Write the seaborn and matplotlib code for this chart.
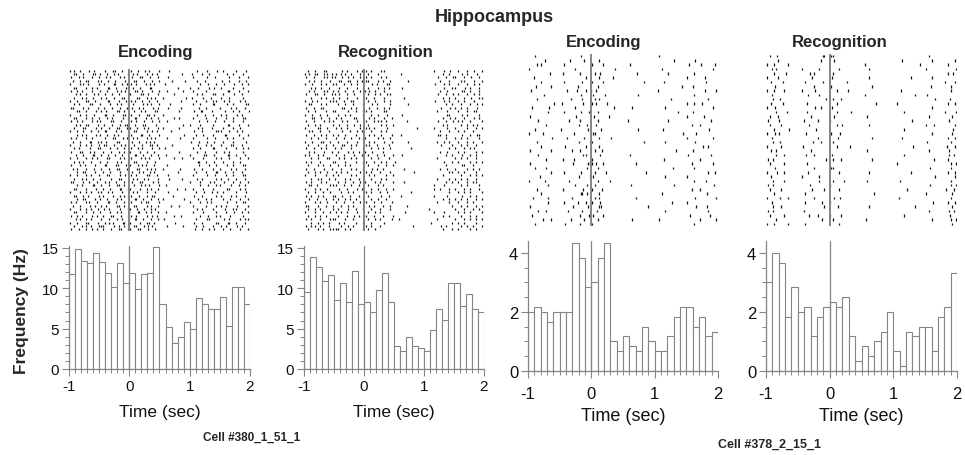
import numpy as np
import pandas as pd
import matplotlib
matplotlib.use("Agg")
import matplotlib.pyplot as plt
from matplotlib.ticker import MultipleLocator
import seaborn as sns

# ---------------- data ----------------
time_range = (-1.0, 2.0)
n_bins = 30
x_ticks = [-1, 0, 1, 2]

enc380_rate = [11.8, 14.9, 13.4, 13.1, 14.4, 13.2, 11.9, 10.2, 13.1, 10.6,
               11.9, 9.9, 11.8, 11.9, 15.1, 8.1, 5.2, 3.2, 4.0, 5.8,
               5.0, 8.8, 8.1, 7.4, 7.4, 8.9, 5.3, 10.2, 10.2, 8.0]
rec380_rate = [9.6, 13.9, 12.6, 10.9, 11.6, 8.6, 10.7, 8.3, 12.1, 8.0,
               8.3, 7.1, 9.8, 11.9, 8.3, 2.9, 2.2, 4.0, 2.9, 2.6,
               2.2, 4.8, 7.4, 6.1, 10.6, 10.7, 7.8, 9.3, 7.4, 7.0]
enc378_rate = [2.0, 2.17, 2.0, 1.67, 2.0, 2.0, 2.0, 4.33, 3.83, 2.83,
               3.0, 3.83, 4.33, 1.0, 0.67, 1.17, 0.83, 0.67, 1.5, 1.0,
               0.67, 0.67, 1.17, 1.83, 2.17, 2.17, 1.5, 1.83, 1.17, 1.33]
rec378_rate = [3.0, 4.0, 3.67, 1.83, 2.83, 2.0, 2.17, 1.17, 1.83, 2.17,
               2.33, 2.17, 2.5, 1.17, 0.33, 0.83, 0.5, 1.0, 1.33, 2.0,
               0.67, 0.17, 1.33, 1.17, 1.5, 1.5, 0.67, 1.83, 2.17, 3.33]

# raster rows (one per trial): six groups of 0.5 s covering -1..2 s,
# 10 slots of 50 ms per group; '(' early, '|' middle, ')' late spike in the slot
enc380_raster = [
    "(|.)..|.(. .)..|(.|.. |.)..(|..) ...(...... ..|..)...( .(...|..).",
    ".)(.|..)|. (.|.).(..| .(|..).|.( .......|.. )...(.|... ..|.(..)..|",
    "|..()..|.) ..(|..).(. )..|(.)..| ..)....... .(...)..|. ...(..|..(",
    ".(.|.)(..| |.)..(..|. .|(.)..|.) ....(...|. ..|..(.... )..(..|.).",
    "(..)|.(..) .|..)(.|.( |.(..|).(. .)........ ...|..(.). .|..)..(.|",
    ".|(..).|.( ..)(.|..)| .(.|..)(.. ......(... (.)...|.(. |...(..)..",
    "|.).(..|.. (.|..).(|. .)|.(..|.) ..|....).. .(...|.... ..)(..|..(",
    "..(|.)..(| .)..(.|..) (..)|.(..| ....)..... ..|.(..)|. .(..)..|..",
    ".)..(|.).. |.(.)..|(. ..|(.).(|. .(......). )...|..(.. |..(...)..",
    "(.|..)(.|. ..)(..|.). |)..(.|..( .......(.. ..(..|.)). .|.(..).(.",
    ".|.(..)|.. (..|.).(.| .(..|).(.) ...|...... .(.|...)(. ..|.(...)|",
    "|(..).(..| .|..(.)..( )..(|..).| ..)....(.. ...(.|.... (..).|..(.",
    "..)(.|..). |.(..)|.(. .|.).(..|( ......|... .|.)(..|.. .)..|.(..)",
    "(..|.)..(. .)(.|..)|. |..(.)|.(. .(........ ..|..(.).. |.(..).|..",
    ".|(..).|.) ..|.(..).| .)(..|.(.| ....).|... .(...|..). ..(.|..)(.",
    "|.).(..|.( (..)|..(.. |.(.)..|.) ..|....... ...(.)..|. .|..(..)..",
    "..(|.)(..| .|..(.).|( .)..|(..). .......).. (..|...).. ..)(..|..(",
    ".)..|(..). |..(.)|..( (.|.).(..| .(....|... ..).(..|.. .(..|.)...",
    "(.|.)..(.| .)(..|.(.. .|(..).|.( ...)...... .|..(...)| |..(.).|..",
    "..).(|..). (.|.).(..| |..)(.|..) ........(. ..(.|..).. .)(...|..(",
    "|.(..).|.. .)..|(.).( .(|..).(|. ..|...)... .(...)..|. ..|.(..)..",
    ".(.|..)(.| |.(..)|... )..(.|).(. .......... |..(.)..(. .(..|...).",
    "(..).|.(.) .|(.)..(|. .|..(.)|.( ....(..... ..)..|.(.. |..)(..|..",
    ".|.(..)..| (..|.)..(. |.).(..|.) .)........ .(.|...)(. ..(..|.).(",
    ")..|(.).(. .(.)..|.(| (..|.)..(. ......|... ..|..(..). .|.(...)..",
    "..(.|..)(. |.)..(.|.. .)(.|..(.| ..(....... (...)|..(. ..)(.|..(.",
    "(.|..).|.( ..|(..).(. |..).(|..) ....)..|.. .(..|...). |..(..)..|",
    ".).(|..(.. (.|..).(.| .|(..)..|. .......... ..)(.|..(. .(..|.)...",
    "|..).(..|. .)(..|(.). (.).(|..(. ..|....... ...(..|.). ..|.(..)(.",
    ".(|..)..(. |..(.)|..( ..|(.).(|. .(....)... .|..(..).. (..).|..(.",
    "..).|(..|. .(.|..)..| )..(|.).(. ......(... ..(..|..)( .)..|..(..",
    "(.|..).(.) ..|(..).|. |.(..)|..( ..)....... .(...)..|. ..(.|..)(.",
    ".|..(|.).. (..)..|(.. .(|.).(..| ...(...|.. ..|.(...). |.)..(..|.",
    "|(..).|..( .).(.|..(. )..|(..).| .......... (..|..).(. .|..(.)..|",
    "..|.(..)(. |..(.)|.(. .|.).(|..) ..(....... ...|..(.). (..)..|.(.",
    ".)(..|..). .(.|..)(.| (..|.).(.| .....)..|. .(..|..).. ..|(..).(.",
    "(..|.).(.| |.).(..|.. .(|..)..|. ..)....... ..(.)..|.( .(...|..).",
    ".|(.).(..) .(..|.).(| |..(.).|(. ....|..... .|..(...). |..).(..|.",
    "..).|(..|. (.|..).(.. .)(.|..(.| .(......(. ..)..|.(.. .(.|..)..(",
    "|.(..)|..( ..)(.|..(. |..).|(..) .......... (..|.).(.. ..|..(.)|.",
    ".(.|..).|. |.(..)|.(. .|(..).(.| ...)..|... .(...|..). |.(..)...|",
    "(..).|.(.| .|.(..)..| (.|.)..(|. .......... ..|.(..).. .)..(|..(.",
    ".|(..|.).. (..|.).(.) ..)(.|.(.| ..(....... .(..|...). ..(.)..|.(",
    "|.).(..|.( .(.)|..(.| |.(..).|.( ....)..(.. ...|..(.). (..|...)..",
    "..(|.).(.. |..(.).|.) .)(.|..(.| .|........ ..(..)|... .|.(..).(|",
    "(.|..)(..| .).(|..)(. (..|.)|.(. .....(.... .|..(...)| ..)(.|..(.",
    ".)..(|.(.) |(..).|.(. .|(.).(|.. ..|....).. ..(.|..).. |.(..).|..",
    "|..(.).|.( .(.)..|(.| (.)|..(.|. .......... .)..(.|.(. .(.|..)..|",
]
rec380_raster = [
    ".(.|..)(.. ..|.(..).( |.(..)|... .......... ...(..|.). .|..(.)..|",
    "(|.)(.|).( ).(|.)..|. .(..)..... ..(....... ......(.|. ..|.(..)..",
    "|..(..)|.( (.|.).(.|. |.(..|.(.. .......... ....|..(.) (..|.)..(.",
    ".|.(.)..|. .|(.)(.|.( )(..|.(.|. ....)..... .....(..|. ..(|..)..|",
    "(.)..|.(.| |..(.).|.. ..|.(..)(. .......... ...)..|.(. .(..|.).(.",
    "..(|.)..(. .|..(..).| .(..|.).(. ..|....... ......|..( |..).(..|.",
    ".|.(..)|.) .(.|..(.). (|.)..|... .......... .....(.|.. ..)(.|..(.",
    "|..)(.|..( ()..(.|... .(.|.(.)|. .......... ....|..(.) .|..(.).|.",
    "..(..|.(.| .|..(..|.. |..(..|... ...(...... ......(.|. (..|.)..(|",
    "(.|.(...|) |..(.)(... .(.|..).|. .......... ...)..|.(. .|.(..)...",
    ".)(..|.(.. .(.|..(..| ..|.(...). ....|..... .......(.| ..(..|.).|",
    "|..(.)(... ..)(.|.(.. .|..(.|.(. .......... .....|..). |.(.|..)..",
    ".(.|...(.| (...|..(.| |.(...)(.. .......... ....(..|.. .|..(.)|..",
    "(.|..(.|.. .(.|.(...| ..(.|..).. ..)....... .......)(. ..|.(...|.",
    "..)(.|..(. |.(...)(.. .|.(..|..( .......... ......(.). (..|..).(.",
    "|..(..|.() ..|.(..|.. |..()|.(.. ....(..... ....|..(.) .|)..(...|",
    ".(.|.(...| .|..(.|.). .(...|.(.| .......... ......(|.. ..(.|.|)..",
    "(...)(.|.. |.(.(...). )|.(...|.. .......).. ...(...|.. |...(..|.(",
    ".|)..(..(. ..|..(.|.( ..(..|.(.. .......... .....(..|. .(.|..(...",
    "|..(.|.(.| .(.|...(.. .|.(.|...( ..(....... ....|(.(.. ..|..(.)(.",
    "..(.|..(.. |..(.|..() (...|.(.|. .......... .......(.. |.(.|...(.",
    "(.|..)(.|. .(..(..|.. .|.(..|..( ....)..... ....(.|.(. .(..|.(..|",
    ".(..|..(.| ..)(.|.(.. |)..(...(. .......... .....|...( ..(.|..(..",
    "|..(.|.(.. (.(..|...| ..(.|.(.|. .....|.... ........(. |..(.|)...",
    ".|.(..|..( .(..|.(.(. (.|...(... .......... .....(.|.. .(.|...(.|",
    "()..|.(... |..(..|..( .(..(.|..) ..|....... .......(.| ..|..(.|..",
    "..(.|..|(. .|.(.|.(.. ..(.|...(. .......... ....(..... |.(.|..(..",
    "|.(..(...| (..|...(.| |..(.|.(.. (......... ......|..( .(...|.(.|",
    ".(..|.(.|. .(.|.(.... .(..|..(.| .......... .......(.. ..|(..(...",
    "|..(..|..( ..(..|.(.| ..|.(.(... ...(...... .....(.|.. |...(.|.(.",
    ".(.|.(.|.. |.(.(...|. |.(..(..|. ......|... ........|( .(.|...(..",
    "(..|...(.| .(...|.(.. .|.(...(.| .......... ......(... ..(..|.(.|",
    "..(.||..(. (..|.(..(. ..(..|.(.. .......... ....(...|. |.(.|..(..",
    "|.(..|.(.. .(.|..(.|. (..|.(...| ...(...... .......(.| .|..(.||..",
    ".|(.(...|) |..(.|..(. .(..|.(... .......... ...(..|... ..(.|...(.",
    "(..|.(.|.. .|..(..|.( ..(.|..(.| .......... ...|.(..(. |..(.|..(.",
    ".(.|..(.|. ..(.|.(... |.(..(.|.. .....).... ........(. .(.|.(...|",
    "|.(.|.(..| (.|..(..(. .(...|..(. ..(....... ...(...|.. ..|..(.(..",
    ".|..(..(.| .(.|.(.(.. ..(.|..(.. .......... ......(.|. |.(.|..(.|",
    "(..|.(.|.. |..(..(.|. |..(.|...( .......... ....(...|. .(..|.(...",
    "|(..|..(.| ..(.|.(... .|.(..(.|. ....(..... .........( ..(.|..(.|",
    ".(.|.(...| .(..|..(.| ..(..(..|. .......... .|........ |..(..(.|.",
    "(..|..(.|. |.(.(..|.. .(.|.(.... ...)...... ...(..|... .(.|.(...|",
    ".(.|.(.(.. .(..(.|.(. |..(..(..| .......... ......(.|. ..(..|.(..",
    "|.(..(..|| (..|..(... .(.|.(...( .|........ ....(..... |..(.|.(.|",
    "..(.|.(.(. .|.(...(.| ..(...|... .......... ..(......| .(.|...(..",
    "|.(|.(..(. ..(.|.(... |.(..(.... ......(... .....|.(.. ..(.|.(..|",
    ".(..|.(.|) |(.|.(...| .(.|...... .......... ......(..| .(...|.(..",
]
enc378_raster = [
    "..(....... ......)... .......... .......... .|........ ..........",
    ".....|.... ...(...).. ..|....... .......... ......(... ..).......",
    "..).(..... .|........ (..)...... ..(....... .......... )...|....(",
    "(......... ....)..... .......|.. .......... ..(....... ........|.",
    "......)... .(....|... .()....... ....|..... ....(..... ..|.......",
    ".)........ ........(. ..|...)... .......... .......... (....)....",
    "....(..... .|.....(.) (..)...... ......|... ..)....... ......(...",
    "..|....(.. .....).... ..(....... .......... ........|. ..(.......",
    ")......... ..(..|..() .|........ .......... .(........ .....)...|",
    ".....(.... ......)... |...(..... ....)..... .......... ..|.......",
    "..)....... ...|...(.. .(|....... .......... .....(.... ......)...",
    "........(. )......|.. (|..)..... .......... .......... (.|.).....",
    ".(....|... ....)..... .......(.. ..)....... ...(...... ........|.",
    "......(... .|....)..( ..(....... .......... .......|.. ..(.......",
    "|......... .....(.... )....|.... .......... .......... (....|....",
    "...(...... ..)...|... ..(....... .|........ ....(..... .......)..",
    ".....).... ......(.|. .|........ .......... .......... .)..(.....",
    "..(....... |.......). ...(...... ....)..... ..|....... .......(..",
    "(...)..... ....|..... |(........ .......... ........). ...(......",
    ".......|.. ..(....).. ..|...(... .......... .......... (.......|.",
    "..)....... ......(..| (......... ......|... ...(...... ..).......",
    "....(..... .)......(. ..|....... .......... .......... .....()...",
    "|......(.. ...)..|... .(.|...... .......... ......)... ..(.......",
    "...(...... .......|(. ..)....... ..(....... .......... |......)..",
    ".....).... .(..|..... (......... .......... ..)....... ....(.....",
    "|......... ....(...)| (|.)...... ....(..... .......... .)......|.",
    "..(..).... ........|. ..(....... .......... .....).... ..|.......",
    ".......(.. .|....)... .(..|..... .......(.. .......... ......)..(",
    "...)...... ......(..| |......... .......... ...(...... (.........",
    "(....|.... ..)....... ..(..).... .......... .......... ..|...(...",
    "......(... ....)...|. .(........ ..|....... ......(... ........).",
    "..)....... .(.....|.. (..|...... .......... .......... .)..(.....",
    "....(..... ......)(|. ..|....... .......... ..(....... ......|...",
    ".|....(... ...)...... .(|....... ....(..... .......... ..)......|",
    "......(... .|...)..(. (.)....... .......... .....|.... (.........",
    "|......... ....(...). ..|(...... .......).. .......... ...(..|...",
    "...(.).... ..|....(.. .)........ .......... ...(...... ......)...",
    ".(........ ......|..( |..)...... .......... .......... .(.....|..",
    "....)..(.. ...|...).. ..(....... ..)....... .|........ ....(....|",
    "..(....... .)....|... (......... .......... .......... ..|.......",
]
rec378_raster = [
    ".(.|...... .......)(. |(........ .......... .......... .(........",
    "...)...... .......(.. .|........ .......... ..)....... ..(......|",
    "(.|...)... .......... .......... .(........ ........|. .......(..",
    ".).(...... .(....|... ..)....... ..(....... .......... (........)",
    "..|...(... ...).(.... .(........ .......... .......... .......().",
    "(..)...... ....|..... )......... ..(....... .....|.... ..(.......",
    ".|...(.... ..(....).. .....|.... .......... .......... ......(..|",
    "..)....... .....(.... |......... ...(...... .......... .)......(.",
    "(.|..).... .(...|.... ..(..).... .......... ..|....... ........(.",
    ".)........ ...(..|... .......... .(........ ......)... |.........",
    "..(.|..... ........). .(.|...... .......... .......... ...(...)..",
    ".|...(.... ..)....... ..(....... ....|..... .(........ .......(.|",
    "(.)....... .....|.(.. )......... .......... .......... ..(.......",
    "...(..|... ..)....... ..(...)... .......... ...|...... ......(..)",
    ".(.)...... ....(..... .|........ .)........ .......... .(......|.",
    "|...(..... .)....(... (......... .......... .....).... .......|..",
    ".(..)..... ...|...... ..()...... ..(....... .......... (.)......|",
    "..|....(.. .....).... .......... .......... ...(...... ........).",
    "(.).(..... ..|....... |..(...... .......... .......... ..(.....|.",
    ".)........ ......(... ..|....... ...(...... ..)....... .......(.|",
    "..(.|..... ....)..(.. .(........ .......... .......... |.......(.",
    "(...)..... .|........ ..(...|... .......... ......(... ......)..|",
    ".|.(...... ....(..... .......... .)........ .......... .(.....|..",
    "...(.).... ..|..(.... )......... .......... ...(...... .......|.(",
    "|.(....... ........). .(.|...... ...(...... .......... ..)....(..",
    ".(...|.... ..)....... .......... .......... .(........ ........()",
    "..)....... .....(.... |(........ .......... .......... .|......(.",
    "(..|.).... ...(...... ..)....... ..(....... .....|.... .......(.|",
    ".|........ .(....)... .......... .......... .......... ...(.....|",
    "..(..|.... ......)... .(..|..... .)........ ..(....... ........(.",
    "|.(....... ...)...... (......... .......... .......... .|......()",
    ".(..)..... ....|...(. ..)....... .......... ....(..... ......|..(",
    "..|....... ..(....... .......... ...)...... .......... (.......|.",
    "(...|.)... .....(.... .|.(...... .......... .)........ ........(.",
    ".)........ ..(....|.. (......... .......... .......... ..|....(.|",
    "..(.)..... ........(. ..|....... ..(....... ......)... ........|.",
    "|.(....... .)........ .......... .......... .......... .(.....|.(",
    ".(...).... ...|..(... (..|...... .......... ...(...... .......)..",
    "...(...... .......|.. .(........ .|........ .......... ..(.....()",
    "(.|...)... ..(....... ..)....... .......... .......... ........|.",
]

titles = ["Encoding", "Recognition", "Encoding", "Recognition"]
cell_labels = ["Cell #380_1_51_1", "Cell #378_2_15_1"]

# ---------------- style ----------------
sns.set_theme(style="ticks")
plt.rcParams["font.family"] = ["Liberation Sans", "DejaVu Sans"]
GRAY = "#858585"
W, H = 965, 456
SUB = {"(": 0.010, "|": 0.025, ")": 0.040}


def rect(left, right, top, bottom):
    return [left / W, 1 - bottom / H, (right - left) / W, (bottom - top) / H]


def parse_raster(rows):
    recs = []
    for i, row in enumerate(rows):
        for g, grp in enumerate(row.split()):
            for j, ch in enumerate(grp):
                if ch in SUB:
                    recs.append((i, -1.0 + 0.5 * g + 0.05 * j + SUB[ch]))
    return pd.DataFrame(recs, columns=["trial", "t"])


fig = plt.figure(figsize=(W / 100, H / 100), dpi=100)

panels = [
    dict(rate=enc380_rate, raster=enc380_raster, hx=(69, 250), hy=(246.5, 370), ytop=15.3,
         ymaj=5, ymin=1, rx=(69, 250), ry=(70, 232), title_xy=(156, 52),
         lsize=11, pad=2, xl=12.5, lpad=8),
    dict(rate=rec380_rate, raster=rec380_raster, hx=(304, 484), hy=(246.5, 370), ytop=15.3,
         ymaj=5, ymin=1, rx=(304, 484), ry=(70, 232), title_xy=(386, 52),
         lsize=11, pad=2, xl=12.5, lpad=8),
    dict(rate=enc378_rate, raster=enc378_raster, hx=(528, 718), hy=(242, 372), ytop=4.4,
         ymaj=2, ymin=0.5, rx=(528, 718), ry=(55, 227), title_xy=(604, 42),
         lsize=12, pad=6, xl=13, lpad=4),
    dict(rate=rec378_rate, raster=rec378_raster, hx=(766, 957), hy=(242, 372), ytop=4.4,
         ymaj=2, ymin=0.5, rx=(766, 957), ry=(55, 227), title_xy=(840, 42),
         lsize=12, pad=6, xl=13, lpad=4),
]

bin_width = (time_range[1] - time_range[0]) / n_bins
centers = [time_range[0] + bin_width * (i + 0.5) for i in range(n_bins)]

for k, p in enumerate(panels):
    # ---- histogram ----
    ax = fig.add_axes(rect(p["hx"][0], p["hx"][1], p["hy"][0], p["hy"][1]))
    df = pd.DataFrame({"t": centers, "rate": p["rate"]})
    sns.histplot(data=df, x="t", weights="rate", bins=n_bins, binrange=time_range,
                 ax=ax, color="white", edgecolor=GRAY, linewidth=0.8, alpha=1.0)
    ax.axvline(0, color=GRAY, lw=0.9, zorder=3)
    ax.set_xlim(*time_range)
    ax.set_ylim(0, p["ytop"])
    ax.set_xticks(x_ticks)
    ax.set_xticklabels([str(v) for v in x_ticks])
    ax.xaxis.set_minor_locator(MultipleLocator(0.1))
    ax.yaxis.set_major_locator(MultipleLocator(p["ymaj"]))
    ax.yaxis.set_minor_locator(MultipleLocator(p["ymin"]))
    for s in ["top", "right"]:
        ax.spines[s].set_visible(False)
    for s in ["left", "bottom"]:
        ax.spines[s].set_color(GRAY)
        ax.spines[s].set_linewidth(0.9)
    ax.tick_params(which="major", length=5, width=0.8, color=GRAY,
                   labelsize=p["lsize"], labelcolor="#111111", pad=2,
                   bottom=True, left=True)
    ax.tick_params(axis="x", which="major", pad=p["pad"])
    ax.tick_params(which="minor", length=3, width=0.7, color=GRAY,
                   bottom=True, left=True)
    ax.set_xlabel("Time (sec)", fontsize=p["xl"], labelpad=p["lpad"], color="#111111")
    ax.set_ylabel("")
    ax.set_facecolor("white")

    # ---- raster ----
    rax = fig.add_axes(rect(p["rx"][0], p["rx"][1], p["ry"][0], p["ry"][1]))
    rdf = parse_raster(p["raster"])
    n = len(p["raster"])
    trains = [rdf.loc[rdf.trial == i, "t"].values for i in range(n)]
    rax.eventplot(trains, lineoffsets=np.arange(n), linelengths=0.6,
                  linewidths=0.9, colors="#111111")
    rax.axvline(0, color=GRAY, lw=1.4)
    rax.set_xlim(*time_range)
    rax.set_ylim(n - 0.5, -0.5)
    rax.axis("off")

    fig.text(p["title_xy"][0] / W, 1 - p["title_xy"][1] / H, titles[k],
             ha="center", va="center", fontsize=12, fontweight="bold")

fig.text(494 / W, 1 - 18 / H, "Hippocampus", ha="center", va="center",
         fontsize=13, fontweight="bold")
fig.text(22 / W, 1 - 311 / H, "Frequency (Hz)", ha="center", va="center",
         rotation=90, fontsize=12.5, fontweight="bold")
fig.text(252 / W, 1 - 438 / H, cell_labels[0], ha="center", va="center",
         fontsize=8.5, fontweight="bold")
fig.text(770 / W, 1 - 445 / H, cell_labels[1], ha="center", va="center",
         fontsize=9, fontweight="bold")

fig.savefig("out.png", dpi=100, facecolor="white")
